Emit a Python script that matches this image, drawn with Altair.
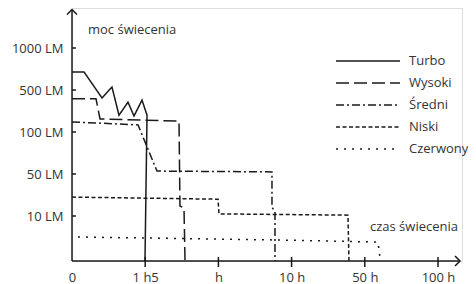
import json
import altair as alt
import pandas as pd

# ---- data (x in tick-index units, y in level-index units)
series = ["Turbo", "Wysoki", "Średni", "Niski", "Czerwony"]
turbo_x = [0.0, 0.164, 0.41, 0.546, 0.642, 0.765, 0.847, 0.956, 1.025, 0.997]
turbo_y = [4.43, 4.43, 3.81, 4.07, 3.40, 3.71, 3.38, 3.76, 3.40, -0.07]
wysoki_x = [0.0, 0.328, 0.383, 1.462, 1.475, 1.53, 1.544]
wysoki_y = [3.79, 3.79, 3.31, 3.26, 1.24, 1.19, -0.07]
sredni_x = [0.0, 0.902, 1.161, 2.732, 2.732, 2.773, 2.773]
sredni_y = [3.24, 3.17, 2.07, 2.05, 1.21, 1.10, -0.07]
niski_x = [0.0, 1.995, 2.008, 3.77, 3.784]
niski_y = [1.45, 1.40, 1.05, 1.02, -0.07]
czerwony_x = [0.082, 2.773, 4.18, 4.208]
czerwony_y = [0.50, 0.43, 0.38, 0.0]

x_labels = ["0", "1 h5", "h", "10 h", "50 h", "100 h"]
y_labels = ["10 LM", "50 LM", "100 LM", "500 LM", "1000 LM"]
y_title = "moc świecenia"
x_title = "czas świecenia"

xs = [turbo_x, wysoki_x, sredni_x, niski_x, czerwony_x]
ys = [turbo_y, wysoki_y, sredni_y, niski_y, czerwony_y]
rows = []
for name, sx, sy in zip(series, xs, ys):
    for i, (a, b) in enumerate(zip(sx, sy)):
        rows.append({"series": name, "x": a, "y": b, "o": i})
df = pd.DataFrame(rows)

dashes = [[1, 0], [13, 5], [8, 3, 2, 3], [4, 2.5], [2, 6]]
FONT = "Open Sans"
TXT = "#333333"
INK = "#1a1a1a"

W, H = 390, 253
xscale = alt.Scale(domain=[0, W / 73.2], nice=False, zero=False)
yscale = alt.Scale(domain=[-3 / 42, 250 / 42], nice=False, zero=False)

x_axis = alt.Axis(values=list(range(len(x_labels))),
                  labelExpr=json.dumps(x_labels) + "[round(datum.value)]",
                  domain=False, ticks=False, grid=False, title=None,
                  labelPadding=10, labelFont=FONT, labelFontSize=13,
                  labelColor=TXT, labelAngle=0, labelFlush=False)
y_axis = alt.Axis(values=list(range(1, len(y_labels) + 1)),
                  labelExpr=json.dumps(y_labels) + "[round(datum.value)-1]",
                  domain=False, ticks=False, grid=False, title=None,
                  labelPadding=9, labelFont=FONT, labelFontSize=13,
                  labelColor=TXT, labelFlush=False)

lines = alt.Chart(df).mark_line(strokeWidth=1.5, color=INK).encode(
    x=alt.X("x:Q", scale=xscale, axis=x_axis),
    y=alt.Y("y:Q", scale=yscale, axis=y_axis),
    strokeDash=alt.StrokeDash(
        "series:N",
        scale=alt.Scale(domain=series, range=dashes),
        legend=alt.Legend(orient="none", legendX=263, legendY=42, title=None,
                          symbolType="stroke", symbolSize=4096,
                          symbolStrokeWidth=1.5, symbolStrokeColor=INK,
                          clipHeight=21.75, rowPadding=0, labelOffset=8,
                          labelFont=FONT, labelFontSize=13, labelColor=TXT,
                          padding=0),
    ),
    order=alt.Order("o:Q"),
)

xt = pd.DataFrame({"x": list(range(1, len(x_labels)))})
yt = pd.DataFrame({"y": list(range(1, len(y_labels) + 1))})

xticks = alt.Chart(xt).mark_rule(color=INK, strokeWidth=1.5).encode(
    x=alt.X("x:Q", scale=xscale, axis=x_axis),
    y=alt.value(249), y2=alt.value(259))
yticks = alt.Chart(yt).mark_rule(color=INK, strokeWidth=1.5).encode(
    y=alt.Y("y:Q", scale=yscale, axis=y_axis),
    x=alt.value(0), x2=alt.value(4))

one = alt.Data(values=[{}])
yline = alt.Chart(one).mark_rule(color=INK, strokeWidth=1.5).encode(
    x=alt.value(0), y=alt.value(2), y2=alt.value(H))
xline = alt.Chart(one).mark_rule(color=INK, strokeWidth=1.5).encode(
    y=alt.value(H), x=alt.value(0), x2=alt.value(388))
yarrow = alt.Chart(one).mark_point(shape="M-1,1L0,0L1,1", filled=False,
                                   size=100, stroke=INK, strokeWidth=1.5,
                                   opacity=1).encode(
    x=alt.value(0), y=alt.value(1.5))
xarrow = alt.Chart(one).mark_point(shape="M-1,-1L0,0L-1,1", filled=False,
                                   size=100, stroke=INK, strokeWidth=1.5,
                                   opacity=1).encode(
    x=alt.value(388), y=alt.value(H))

ytitle = alt.Chart(one).mark_text(text=y_title, align="left", baseline="middle",
                                  font=FONT, fontSize=13, color=TXT).encode(
    x=alt.value(16), y=alt.value(22))
xtitle = alt.Chart(one).mark_text(text=x_title, align="left", baseline="middle",
                                  font=FONT, fontSize=13, color=TXT).encode(
    x=alt.value(298), y=alt.value(219))

chart = alt.layer(lines, xticks, yticks, yline, xline, yarrow, xarrow,
                  ytitle, xtitle).properties(
    width=W, height=H, autosize="none",
    padding={"left": 64, "top": 0, "right": 6, "bottom": 32},
).configure_view(stroke=None).configure(background="white")

chart.save("out.html", embed_options={"renderer": "svg", "actions": False})
